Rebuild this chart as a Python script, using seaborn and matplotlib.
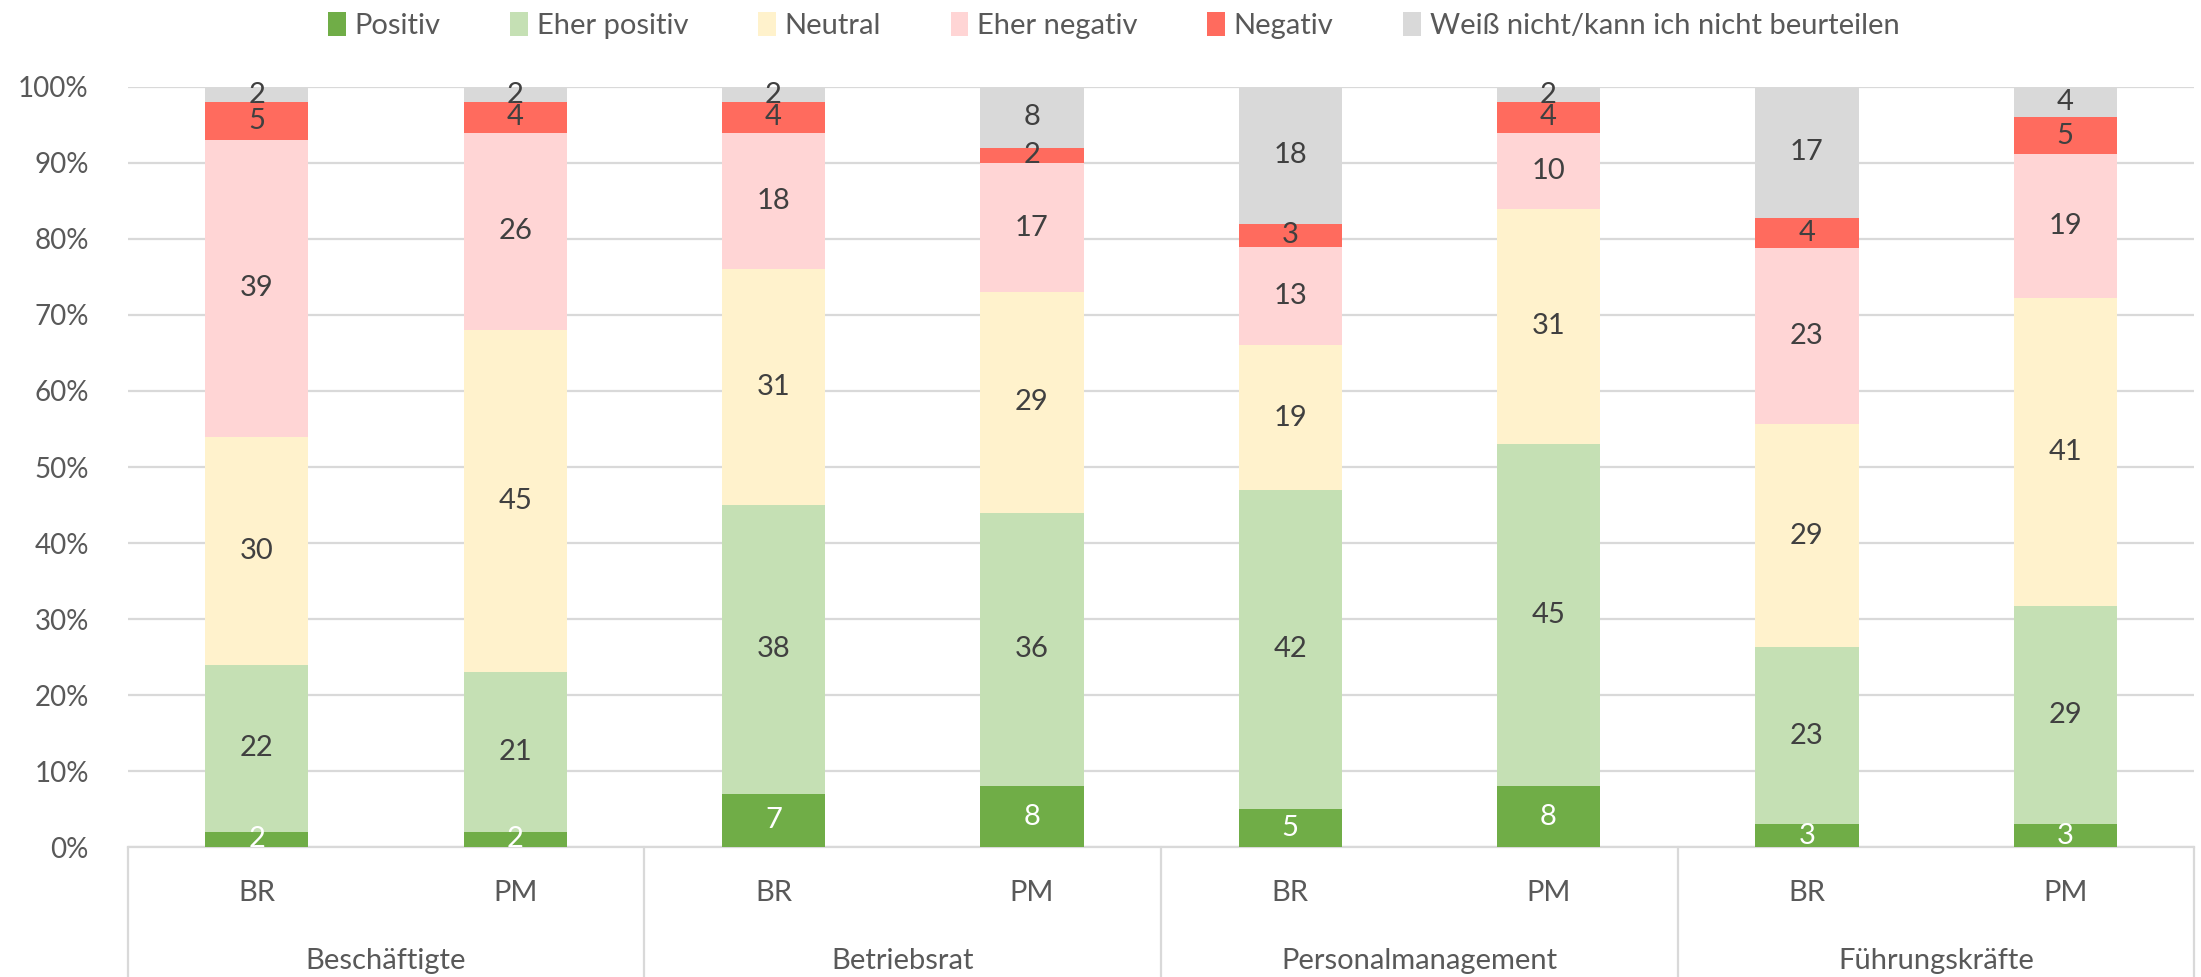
import matplotlib
matplotlib.use("Agg")
import matplotlib.pyplot as plt
import matplotlib.transforms as mtransforms
from matplotlib.patches import Patch
import numpy as np
import pandas as pd
import seaborn as sns

# Survey data: share of answers per respondent group and rated party
groups = ["Beschäftigte", "Betriebsrat", "Personalmanagement", "Führungskräfte"]
subgroups = ["BR", "PM"]
categories = ["Positiv", "Eher positiv", "Neutral", "Eher negativ", "Negativ",
              "Weiß nicht/kann ich nicht beurteilen"]

positiv      = [2, 2, 7, 8, 5, 8, 3, 3]
eher_positiv = [22, 21, 38, 36, 42, 45, 23.3, 28.7]
neutral      = [30, 45, 31, 29, 19, 31, 29.3, 40.6]
eher_negativ = [39, 26, 18, 17, 13, 10, 23.2, 18.9]
negativ      = [5, 4, 4, 2, 3, 4, 4, 4.8]
weiss_nicht  = [2, 2, 2, 8, 18, 2, 17.2, 4]

colors = ["#70AD47", "#C5E0B4", "#FFF2CC", "#FFD5D5", "#FF6B5E", "#D9D9D9"]
label_colors = ["white", "#404040", "#404040", "#404040", "#404040", "#404040"]

series = [positiv, eher_positiv, neutral, eher_negativ, negativ, weiss_nicht]
bar_names = [f"{g}|{s}" for g in groups for s in subgroups]

sns.set_theme(style="white")
plt.rcParams["font.family"] = ["Lato", "DejaVu Sans"]

fig = plt.figure(figsize=(22.01, 9.77), dpi=100)
ax = fig.add_axes([0.058, 0.133, 0.939, 0.778])

grid_c = "#D9D9D9"
text_c = "#595959"
fs = 21

bottom = np.zeros(len(bar_names))
for vals, col, lc, name in zip(series, colors, label_colors, categories):
    vals = np.array(vals, dtype=float)
    df = pd.DataFrame({"bar": bar_names, "value": vals})
    sns.barplot(data=df, x="bar", y="value", order=bar_names, color=col,
                width=0.4, bottom=bottom, ax=ax, saturation=1,
                edgecolor="none", linewidth=0, zorder=3)
    for i, v in enumerate(vals):
        ax.text(i, bottom[i] + v / 2, f"{v:.0f}", ha="center", va="center",
                fontsize=fs, color=lc, zorder=5)
    bottom += vals

ax.set_ylim(0, 100)
ax.set_xlim(-0.5, len(bar_names) - 0.5)
ax.set_yticks(np.arange(0, 101, 10))
ax.set_yticklabels([f"{t}%" for t in range(0, 101, 10)], fontsize=20, color=text_c)
ax.tick_params(axis="y", length=0, pad=28)
ax.yaxis.grid(True, color=grid_c, linewidth=1.6, zorder=0)
ax.set_axisbelow(True)
for s in ["left", "right", "top"]:
    ax.spines[s].set_visible(False)
ax.spines["bottom"].set_color(grid_c)
ax.spines["bottom"].set_linewidth(1.6)
ax.set_xlabel("")
ax.set_ylabel("")

# Two-level category axis
ax.set_xticks(range(len(bar_names)))
ax.set_xticklabels(subgroups * len(groups), fontsize=fs, color=text_c)
ax.tick_params(axis="x", length=0, pad=24)

trans = mtransforms.blended_transform_factory(ax.transData, ax.transAxes)
for b in np.arange(-0.5, len(bar_names), 2):
    ax.plot([b, b], [0, -0.3], transform=trans, color=grid_c, linewidth=1.6,
            clip_on=False, zorder=1)
for k, g in enumerate(groups):
    ax.text(2 * k + 0.5, -0.15, g, transform=trans, ha="center", va="center",
            fontsize=fs, color=text_c)

handles = [Patch(facecolor=c, edgecolor="none") for c in colors]
fig.legend(handles, categories, loc="center", bbox_to_anchor=(0.506, 0.974),
           ncol=6, frameon=False, fontsize=fs, handlelength=0.6, handleheight=0.9,
           handletextpad=0.3, columnspacing=2.4, labelcolor=text_c)

fig.savefig("out.png", dpi=100)
